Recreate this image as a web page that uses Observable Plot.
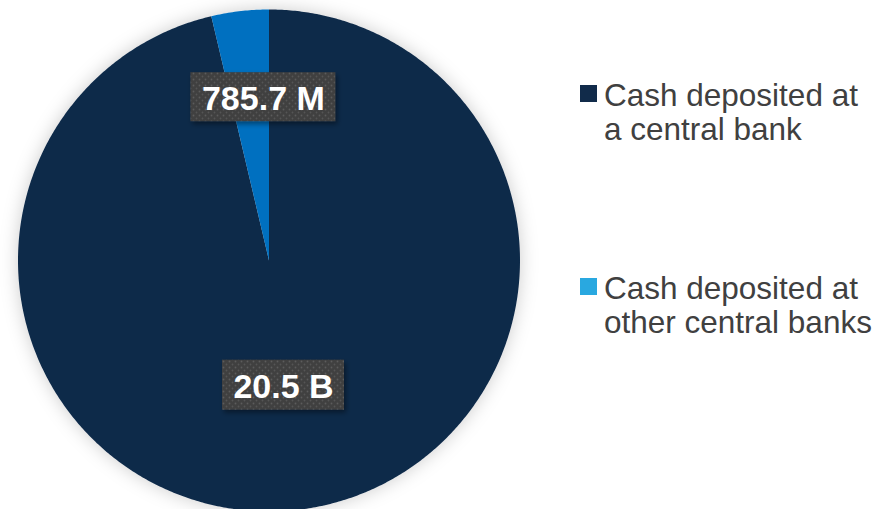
<!DOCTYPE html>
<html>
<head>
<meta charset="utf-8">
<script src="https://cdn.jsdelivr.net/npm/d3@7"></script>
<script src="https://cdn.jsdelivr.net/npm/@observablehq/plot@0.6"></script>
<style>
  html, body { margin: 0; padding: 0; background: #ffffff; }
  body { font-family: "Liberation Sans", Arial, sans-serif; }
  #wrap { position: relative; width: 879px; height: 509px; overflow: hidden; }
  #chart { position: absolute; left: 0; top: 0; }
  .sw { position: absolute; left: 580px; width: 17px; height: 17px; }
  .lt { position: absolute; left: 604px; font-size: 31.5px; line-height: 34px; color: #404040; white-space: nowrap; }
</style>
</head>
<body>
<div id="wrap">
  <div id="chart"></div>
  <div id="legend"></div>
</div>
<script>
// ---- data ----
const categories = ["Cash deposited at a central bank", "Cash deposited at other central banks"];
const values = [20.5e9, 785.7e6];
const valueLabels = ["20.5 B", "785.7 M"];
const legendLines = [["Cash deposited at", "a central bank"], ["Cash deposited at", "other central banks"]];

// ---- styles ----
const sliceColors = ["#112B4A", "#0070C0"];
const legendColors = ["#112B4A", "#29A8E0"];

const W = 545, H = 509;
const cx = 268.5, cy = 260, R = 251;

const arcs = d3.pie().sort(null).value(d => d)(values);

// polygon points for each slice, built from the pie angles (unit radius)
const slicePts = [];
arcs.forEach((a, i) => {
  slicePts.push({cat: categories[i], x: 0, y: 0});
  const n = Math.max(2, Math.ceil((a.endAngle - a.startAngle) / (Math.PI / 360)));
  for (let k = 0; k <= n; k++) {
    const t = a.startAngle + (a.endAngle - a.startAngle) * k / n;
    slicePts.push({cat: categories[i], x: Math.sin(t), y: Math.cos(t)});
  }
  slicePts.push({cat: categories[i], x: 0, y: 0});
});

// label anchor positions along the mid-angle of each slice
const labelRadius = [0.5, 0.655];
const labelShift = [0, 13.4 / R];
const labels = arcs.map((a, i) => {
  const m = (a.startAngle + a.endAngle) / 2;
  return {text: valueLabels[i], x: labelRadius[i] * Math.sin(m) + labelShift[i], y: labelRadius[i] * Math.cos(m)};
});
const boxSizes = [[122, 50], [145, 49]];

const boxMark = (i) => Plot.rect([labels[i]], {
  x1: "x", x2: "x", y1: "y", y2: "y",
  insetLeft: -boxSizes[i][0] / 2, insetRight: -boxSizes[i][0] / 2,
  insetTop: -boxSizes[i][1] / 2, insetBottom: -boxSizes[i][1] / 2,
  fill: "url(#dots)"
});

const svg = Plot.plot({
  width: W, height: H,
  margin: 0,
  x: {domain: [-cx / R, (W - cx) / R], axis: null},
  y: {domain: [-(H - cy) / R, cy / R], axis: null},
  color: {domain: categories, range: sliceColors},
  style: {background: "transparent", overflow: "visible"},
  marks: [
    Plot.line(slicePts, {x: "x", y: "y", z: "cat", fill: "cat", stroke: "none", curve: "linear"}),
    boxMark(0),
    boxMark(1),
    Plot.text(labels, {
      x: "x", y: "y", text: "text", dy: 1.6,
      fill: "white", fontSize: 34, fontWeight: "bold",
      fontFamily: "Liberation Sans, Arial, sans-serif"
    })
  ]
});

// defs: dotted pattern and shadows
const defs = d3.select(svg).insert("defs", ":first-child");
const pat = defs.append("pattern").attr("id", "dots").attr("patternUnits", "userSpaceOnUse")
  .attr("width", 6).attr("height", 6);
pat.append("rect").attr("width", 6).attr("height", 6).attr("fill", "#404040");
pat.append("circle").attr("cx", 1.5).attr("cy", 1.5).attr("r", 0.9).attr("fill", "#5c5c5c");
pat.append("circle").attr("cx", 4.5).attr("cy", 4.5).attr("r", 0.9).attr("fill", "#555555");

const f1 = defs.append("filter").attr("id", "pieShadow")
  .attr("x", "-20%").attr("y", "-20%").attr("width", "140%").attr("height", "140%");
f1.append("feDropShadow").attr("dx", 0).attr("dy", 0).attr("stdDeviation", 9)
  .attr("flood-color", "#000").attr("flood-opacity", 0.2);
const f2 = defs.append("filter").attr("id", "boxShadow")
  .attr("x", "-20%").attr("y", "-30%").attr("width", "140%").attr("height", "160%");
f2.append("feDropShadow").attr("dx", 2).attr("dy", 3).attr("stdDeviation", 2.5)
  .attr("flood-color", "#000").attr("flood-opacity", 0.4);

d3.select(svg).selectAll('g[aria-label="line"]').attr("filter", "url(#pieShadow)");
d3.select(svg).selectAll('g[aria-label="rect"]').attr("filter", "url(#boxShadow)");

document.getElementById("chart").appendChild(svg);

// legend (HTML, to the right of the SVG)
const legend = document.getElementById("legend");
const itemTops = [84.5, 277.5];
legendLines.forEach((lines, i) => {
  const sw = document.createElement("div");
  sw.className = "sw";
  sw.style.top = itemTops[i] + "px";
  sw.style.background = legendColors[i];
  legend.appendChild(sw);
  const t = document.createElement("div");
  t.className = "lt";
  t.style.top = (itemTops[i] - 6.3) + "px";
  t.innerHTML = lines.join("<br>");
  legend.appendChild(t);
});
</script>
</body>
</html>
